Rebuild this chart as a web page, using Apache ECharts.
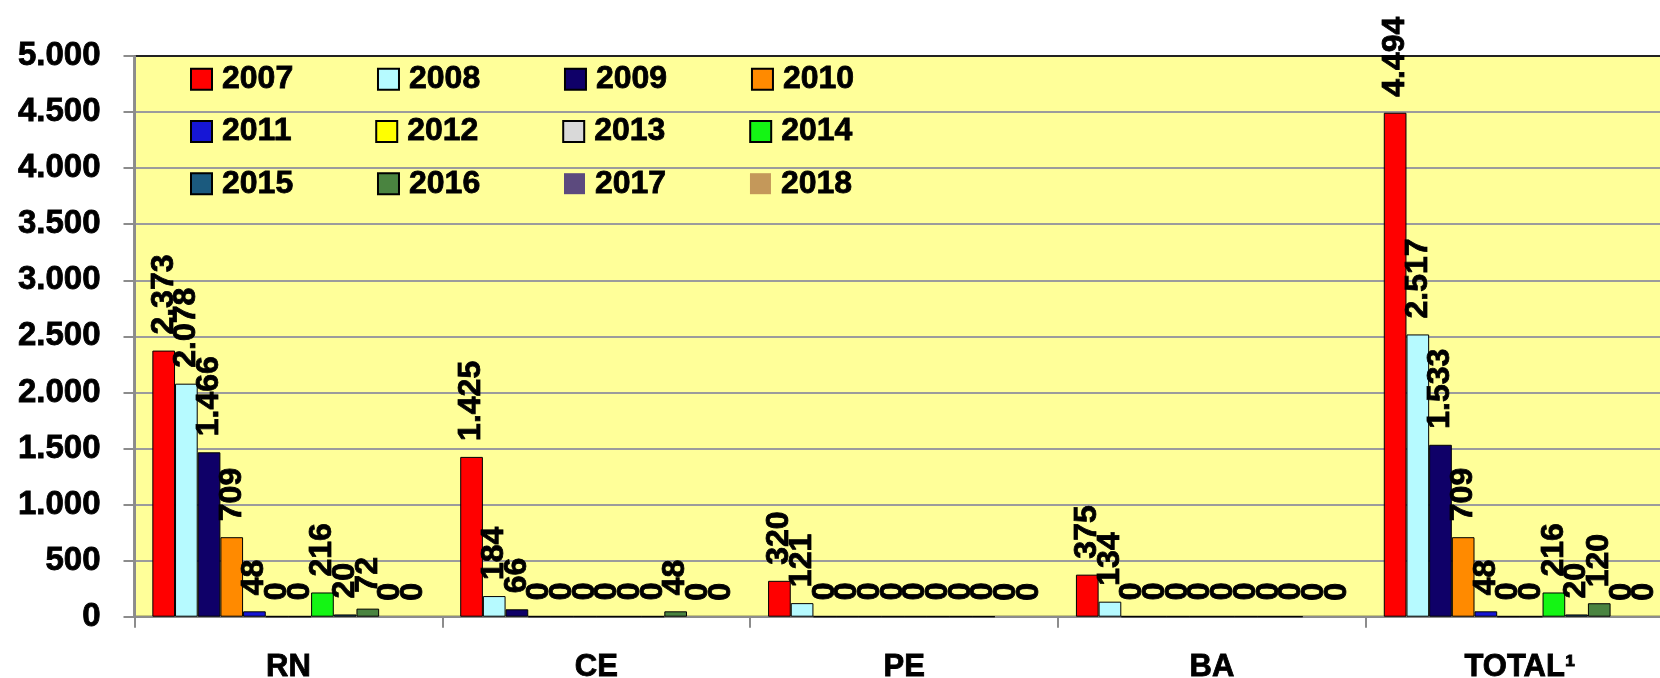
<!DOCTYPE html>
<html>
<head>
<meta charset="utf-8">
<script src="https://cdn.jsdelivr.net/npm/echarts@6/dist/echarts.min.js"></script>
<style>
html,body{margin:0;padding:0;background:#fff;overflow:hidden;}
#c{width:1660px;height:678px;}
</style>
</head>
<body>
<div id="c"></div>
<script>
const categories = ['RN', 'CE', 'PE', 'BA', 'TOTAL¹'];
const years = ['2007','2008','2009','2010','2011','2012','2013','2014','2015','2016','2017','2018'];
const v2007 = [2373, 1425, 320, 375, 4494];
const v2008 = [2078, 184, 121, 134, 2517];
const v2009 = [1466, 66, 0, 0, 1533];
const v2010 = [709, 0, 0, 0, 709];
const v2011 = [48, 0, 0, 0, 48];
const v2012 = [0, 0, 0, 0, 0];
const v2013 = [0, 0, 0, 0, 0];
const v2014 = [216, 0, 0, 0, 216];
const v2015 = [20, 0, 0, 0, 20];
const v2016 = [72, 48, 0, 0, 120];
const v2017 = [0, 0, 0, 0, 0];
const v2018 = [0, 0, 0, 0, 0];
const yTicks = [0, 500, 1000, 1500, 2000, 2500, 3000, 3500, 4000, 4500, 5000];

const seriesValues = [v2007, v2008, v2009, v2010, v2011, v2012, v2013, v2014, v2015, v2016, v2017, v2018];
const colors = ['#FF0000','#B6FAFF','#0F0068','#FF8A00','#1616D6','#FFFF00','#D9D9D9','#14F514','#1B5A7E','#4A8440','#5C4A7E','#C4985A'];
const noBorder = ['2017','2018'];

const FONT = "'Liberation Sans', Arial, sans-serif";
const HEAVY = {textBorderColor: '#000', textBorderWidth: 0.8};
function fmt(v){ return String(v).replace(/\B(?=(\d{3})+(?!\d))/g, '.'); }

const series = years.map((y, i) => ({
  name: y,
  type: 'bar',
  data: seriesValues[i],
  barGap: '0%',
  barCategoryGap: '11.6%',
  itemStyle: {
    color: colors[i],
    borderColor: '#000',
    borderWidth: noBorder.includes(y) ? 0 : 1
  },
  label: Object.assign({
    show: true,
    position: 'top',
    rotate: 90,
    align: 'left',
    verticalAlign: 'middle',
    distance: 16,
    color: '#000',
    fontFamily: FONT,
    fontWeight: 'bold',
    fontSize: 32,
    formatter: p => fmt(p.value)
  }, HEAVY)
}));

function legendRow(names, top){
  return {
    data: names,
    left: 190,
    top: top,
    orient: 'horizontal',
    padding: 0,
    itemWidth: 21,
    itemHeight: 21,
    itemGap: 83.4,
    icon: 'rect',
    textStyle: Object.assign({
      fontFamily: FONT, fontWeight: 'bold', fontSize: 32, color: '#000',
      lineHeight: 32, padding: [0, 0, 0, 5]
    }, HEAVY)
  };
}

const chart = echarts.init(document.getElementById('c'), null, {renderer: 'canvas'});
chart.setOption({
  animation: false,
  backgroundColor: '#fff',
  grid: {
    left: 134.5, width: 1539.3, top: 56, height: 560.7,
    containLabel: false, outerBoundsMode: 'none',
    show: true, backgroundColor: '#FFFF99', borderColor: '#222', borderWidth: 2
  },
  legend: [
    legendRow(years.slice(0, 4), 62.8),
    legendRow(years.slice(4, 8), 115.2),
    legendRow(years.slice(8, 12), 167.3)
  ],
  xAxis: {
    type: 'category',
    data: categories,
    axisLine: {show: true, lineStyle: {color: '#8C8C8C', width: 2}},
    axisTick: {show: true, length: 11, lineStyle: {color: '#8C8C8C', width: 2}},
    axisLabel: Object.assign({
      margin: 35, color: '#000', fontFamily: FONT, fontWeight: 'bold', fontSize: 31
    }, HEAVY),
    splitLine: {show: false}
  },
  yAxis: {
    type: 'value',
    min: yTicks[0],
    max: yTicks[yTicks.length - 1],
    interval: yTicks[1] - yTicks[0],
    axisLine: {show: true, lineStyle: {color: '#8C8C8C', width: 2}},
    axisTick: {show: true, length: 11, lineStyle: {color: '#8C8C8C', width: 2}},
    axisLabel: Object.assign({
      margin: 34, color: '#000', fontFamily: FONT, fontWeight: 'bold', fontSize: 33,
      formatter: v => fmt(v)
    }, HEAVY),
    splitLine: {show: true, showMaxLine: false, showMinLine: false, lineStyle: {color: '#9C9C9C', width: 2}}
  },
  series: series
});
</script>
</body>
</html>
